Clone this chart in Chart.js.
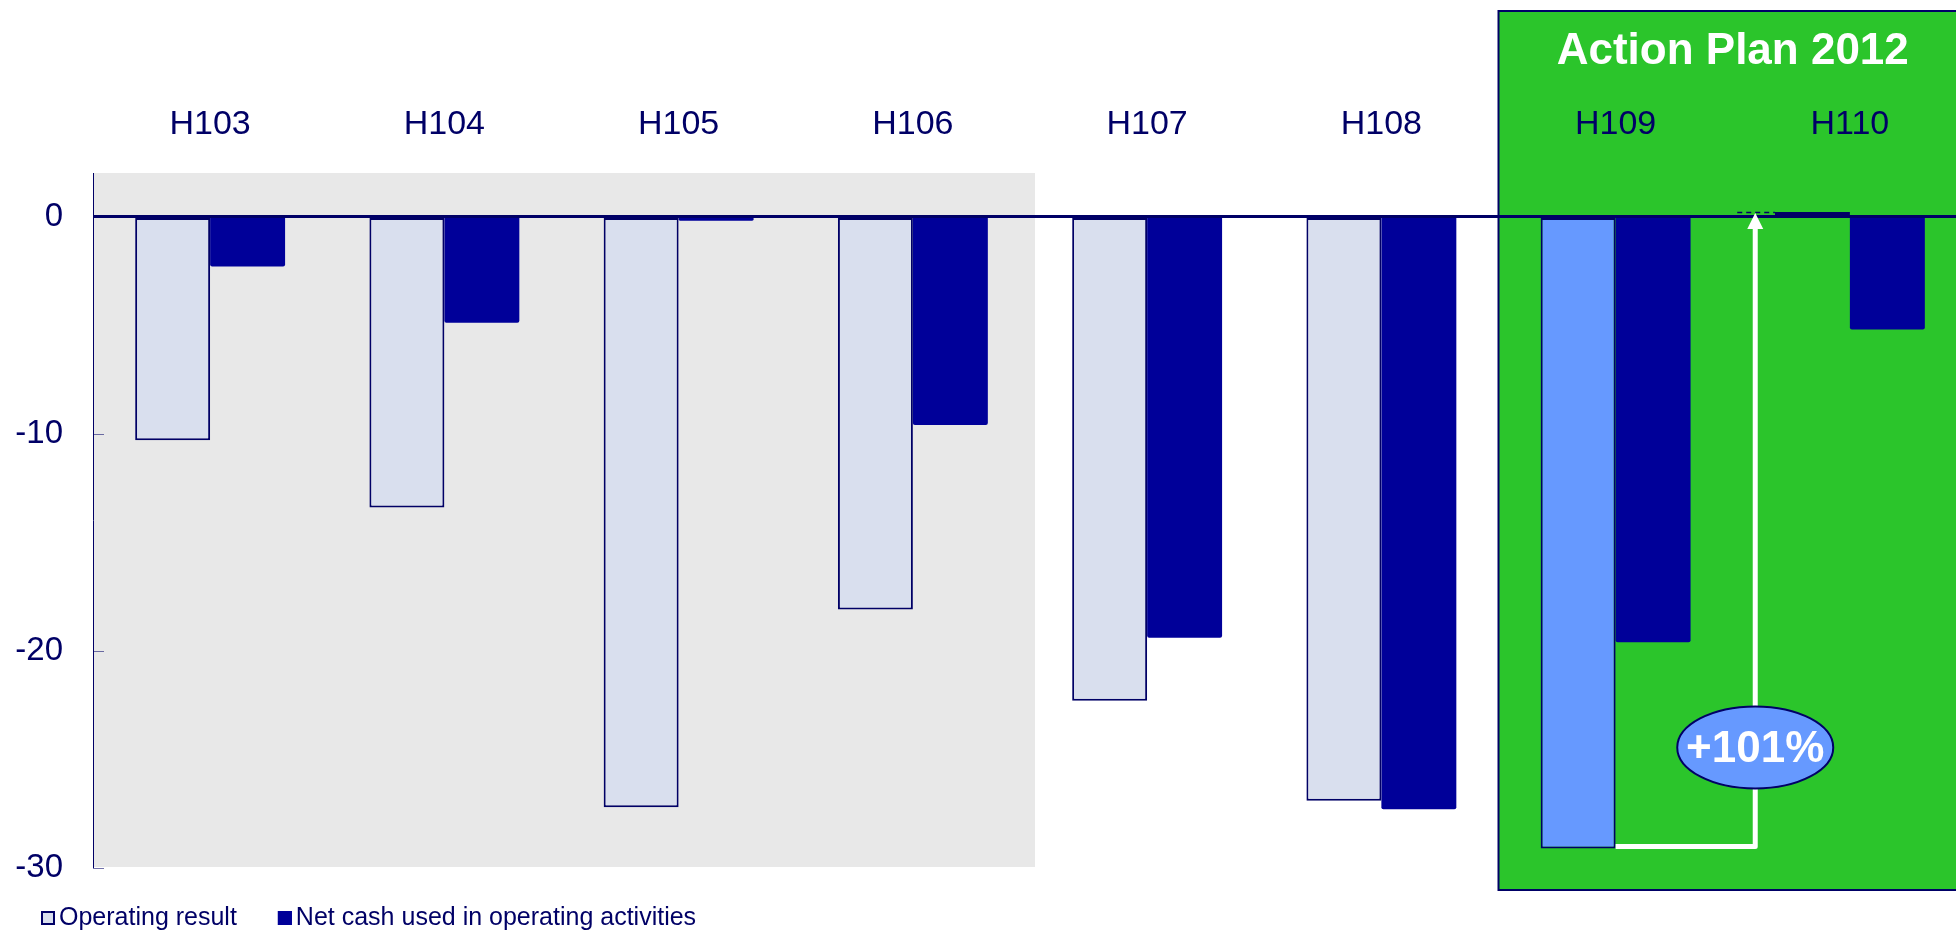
<!DOCTYPE html>
<html>
<head>
<meta charset="utf-8">
<script src="https://cdn.jsdelivr.net/npm/chart.js@4.4.1/dist/chart.umd.min.js"></script>
<style>
  html, body { margin: 0; padding: 0; background: #ffffff; overflow: hidden; }
  #wrap { width: 1967px; height: 932px; }
</style>
</head>
<body>
<div id="wrap"><canvas id="c" width="1967" height="932"></canvas></div>
<script>
// Half-year periods
const categories = ['H103', 'H104', 'H105', 'H106', 'H107', 'H108', 'H109', 'H110'];
// Operating result (EUR m)
const operatingResult = [-10.3, -13.4, -27.2, -18.1, -22.3, -26.9, -29.1, 0.2];
// Net cash used in operating activities (EUR m)
const netCashUsed = [-2.3, -4.9, -0.2, -9.6, -19.4, -27.3, -19.6, -5.2];
// Value axis labels
const yTickValues = [0, -10, -20, -30];
const seriesNames = ['Operating result', 'Net cash used in operating activities'];
const planTitle = 'Action Plan 2012';
const planFirstIndex = 6;      // H109 and H110 belong to the plan
const historyLastIndex = 3;    // shaded period runs through H106

const NAVY = '#000066';
const DARK_BLUE = '#000099';
const LAVENDER = '#D9DFEE';
const PLAN_BLUE = '#6699FF';
const GREEN = '#2BC52B';
const SHADE = '#E8E8E8';
const FONT = '"Liberation Sans", Arial, sans-serif';

Chart.defaults.font.family = FONT;

function boundary(x, i) {
  return (x.getPixelForValue(i) + x.getPixelForValue(i + 1)) / 2;
}

const decor = {
  id: 'decor',
  beforeDraw(chart) {
    const { ctx, chartArea, scales: { x } } = chart;
    ctx.save();
    // shaded history block
    const shadeRight = boundary(x, historyLastIndex) + 5;
    ctx.fillStyle = SHADE;
    ctx.fillRect(chartArea.left, chartArea.top, shadeRight - chartArea.left, chartArea.bottom - chartArea.top - 1);

    // action plan panel
    const gLeft = boundary(x, planFirstIndex - 1);
    const gTop = 11;
    const gBottom = chartArea.bottom + 22;
    ctx.fillStyle = GREEN;
    ctx.fillRect(gLeft, gTop, chart.width + 20 - gLeft, gBottom - gTop);
    ctx.strokeStyle = NAVY;
    ctx.lineWidth = 2;
    ctx.strokeRect(gLeft, gTop, chart.width + 20 - gLeft, gBottom - gTop);

    // panel title
    const tx = (x.getPixelForValue(planFirstIndex) + x.getPixelForValue(categories.length - 1)) / 2;
    ctx.fillStyle = '#ffffff';
    ctx.font = 'bold 44px ' + FONT;
    ctx.textAlign = 'center';
    ctx.textBaseline = 'middle';
    ctx.fillText(planTitle, tx, 52);
    ctx.restore();
  },
  afterDatasetsDraw(chart) {
    const { ctx, chartArea, scales: { x, y } } = chart;
    ctx.save();
    // inward tick marks on the value axis
    ctx.strokeStyle = 'rgba(0,0,102,0.55)';
    ctx.lineWidth = 1;
    yTickValues.forEach(v => {
      if (v === 0) return;
      const py = Math.round(y.getPixelForValue(v)) + 0.5;
      ctx.beginPath();
      ctx.moveTo(chartArea.left, py);
      ctx.lineTo(chartArea.left + 11, py);
      ctx.stroke();
    });

    // improvement arrow from H109 to H110 operating result
    const meta = chart.getDatasetMeta(0);
    const from = meta.data[planFirstIndex];
    const to = meta.data[planFirstIndex + 1];
    const i0 = planFirstIndex, i1 = planFirstIndex + 1;
    const ax = x.getPixelForValue(i0) + 0.596 * (x.getPixelForValue(i1) - x.getPixelForValue(i0));
    const yFrom = y.getPixelForValue(operatingResult[i0]) - 2;
    const yTo = y.getPixelForValue(operatingResult[i1]);

    // dashed reference at the H110 level
    ctx.strokeStyle = NAVY;
    ctx.lineWidth = 1.5;
    ctx.setLineDash([5, 4]);
    ctx.beginPath();
    ctx.moveTo(ax - 18, yTo + 0.5);
    ctx.lineTo(to.x - to.width / 2, yTo + 0.5);
    ctx.stroke();
    ctx.setLineDash([]);

    const tipY = yTo + 1;
    ctx.strokeStyle = '#ffffff';
    ctx.lineWidth = 5;
    ctx.lineJoin = 'round';
    ctx.beginPath();
    ctx.moveTo(from.x + from.width / 2, yFrom);
    ctx.lineTo(ax, yFrom);
    ctx.lineTo(ax, tipY + 14);
    ctx.stroke();
    ctx.fillStyle = '#ffffff';
    ctx.beginPath();
    ctx.moveTo(ax, tipY);
    ctx.lineTo(ax - 8, tipY + 16);
    ctx.lineTo(ax + 8, tipY + 16);
    ctx.closePath();
    ctx.fill();

    // change badge
    const ey = y.getPixelForValue(-24.45);
    ctx.beginPath();
    ctx.ellipse(ax, ey, 78, 41, 0, 0, Math.PI * 2);
    ctx.fillStyle = PLAN_BLUE;
    ctx.fill();
    ctx.strokeStyle = NAVY;
    ctx.lineWidth = 2;
    ctx.stroke();
    const pct = Math.round((operatingResult[i1] - operatingResult[i0]) / Math.abs(operatingResult[i0]) * 100);
    ctx.fillStyle = '#ffffff';
    ctx.font = 'bold 44px ' + FONT;
    ctx.textAlign = 'center';
    ctx.textBaseline = 'middle';
    ctx.fillText((pct > 0 ? '+' : '') + pct + '%', ax, ey + 2);
    ctx.restore();
  },
  afterDraw(chart) {
    // legend row
    const { ctx } = chart;
    ctx.save();
    ctx.font = '25px ' + FONT;
    ctx.textBaseline = 'middle';
    ctx.textAlign = 'left';
    const cy = 918;
    let lx = 41;
    const swatches = [
      { fill: LAVENDER, stroke: NAVY },
      { fill: DARK_BLUE, stroke: DARK_BLUE }
    ];
    seriesNames.forEach((name, i) => {
      ctx.fillStyle = swatches[i].fill;
      ctx.fillRect(lx, cy - 7, 14, 14);
      ctx.strokeStyle = swatches[i].stroke;
      ctx.lineWidth = 2;
      ctx.strokeRect(lx + 1, cy - 6, 12, 12);
      ctx.fillStyle = NAVY;
      ctx.fillText(name, lx + 18, cy);
      lx += 18 + ctx.measureText(name).width + 41;
    });
    ctx.restore();
  }
};

new Chart(document.getElementById('c'), {
  type: 'bar',
  data: {
    labels: categories,
    datasets: [
      {
        label: seriesNames[0],
        data: operatingResult,
        backgroundColor: categories.map((_, i) => i >= planFirstIndex ? PLAN_BLUE : LAVENDER),
        borderColor: NAVY,
        borderWidth: 2,
        borderSkipped: false
      },
      {
        label: seriesNames[1],
        data: netCashUsed,
        backgroundColor: DARK_BLUE,
        borderWidth: 0,
        borderRadius: 2
      }
    ]
  },
  options: {
    responsive: false,
    animation: false,
    devicePixelRatio: 1,
    events: [],
    layout: { padding: { top: 0, left: 0, right: 0, bottom: 64 } },
    datasets: { bar: { categoryPercentage: 0.64, barPercentage: 1.0 } },
    plugins: { legend: { display: false }, tooltip: { enabled: false } },
    scales: {
      x: {
        position: 'top',
        grid: { display: false },
        border: { display: false },
        ticks: { color: NAVY, font: { size: 34 }, padding: 20, maxRotation: 0, autoSkip: false },
        afterFit(scale) { scale.height = 173; }
      },
      y: {
        min: -30,
        max: 2,
        grid: {
          drawTicks: false,
          color: c => (c.tick && c.tick.value === 0) ? NAVY : 'rgba(0,0,0,0)',
          lineWidth: c => (c.tick && c.tick.value === 0) ? 3 : 0
        },
        border: { display: true, color: NAVY, width: 1 },
        ticks: {
          stepSize: 10,
          includeBounds: false,
          color: NAVY,
          font: { size: 33 },
          padding: 30,
          callback: v => yTickValues.includes(v) ? String(v) : ''
        },
        afterFit(scale) { scale.width = 93; }
      }
    }
  },
  plugins: [decor]
});
</script>
</body>
</html>
